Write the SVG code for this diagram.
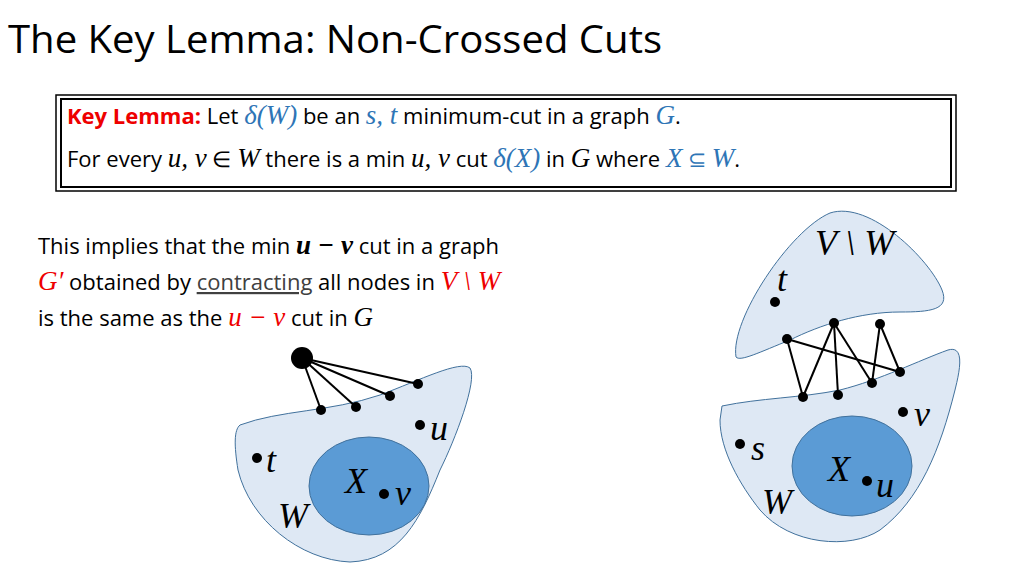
<svg xmlns="http://www.w3.org/2000/svg" width="1024" height="576" viewBox="0 0 1024 576">
<style>
.t{font-family:"Open Sans","Liberation Sans",sans-serif;fill:#000}
.m{font-family:"Liberation Serif","DejaVu Serif",serif;font-style:italic;font-size:27px}
.b{fill:#dee8f4;stroke:#41719c;stroke-width:1}
.x{fill:#5b9bd5;stroke:#41719c;stroke-width:1}
.e line{stroke:#000;stroke-width:2}
</style>
<rect width="1024" height="576" fill="#fff"/>
<text class="t" x="8" y="53" font-size="38" fill="#404040" textLength="654" lengthAdjust="spacingAndGlyphs">The Key Lemma: Non-Crossed Cuts</text>
<rect x="56" y="95" width="900" height="96" fill="none" stroke="#000" stroke-width="1.5"/>
<rect x="61" y="99" width="890" height="88" fill="none" stroke="#000" stroke-width="2"/>
<text class="t" x="67" y="124" font-size="22"><tspan fill="#e00" font-weight="bold">Key Lemma:</tspan> Let <tspan class="m" fill="#2e75b6">δ(W)</tspan> be an <tspan class="m" fill="#2e75b6">s, t</tspan> minimum-cut in a graph <tspan class="m" fill="#2e75b6">G</tspan>.</text>
<text class="t" x="67" y="167" font-size="22">For every <tspan class="m">u, v</tspan> ∈ <tspan class="m">W</tspan>  there is a min <tspan class="m">u, v</tspan> cut <tspan class="m" fill="#2e75b6">δ(X)</tspan> in <tspan class="m">G</tspan> where <tspan class="m" fill="#2e75b6">X</tspan><tspan fill="#2e75b6"> ⊆ </tspan><tspan class="m" fill="#2e75b6">W</tspan>.</text>
<text class="t" x="38" y="254" font-size="22">This implies that the min <tspan class="m" font-weight="bold">u − v</tspan> cut in a graph</text>
<text class="t" x="38" y="290" font-size="22"><tspan class="m" fill="#e00">G′</tspan> obtained by <tspan text-decoration="underline" fill="#404040">contracting</tspan> all nodes in <tspan class="m" fill="#e00">V \ W</tspan></text>
<text class="t" x="38" y="326" font-size="22">is the same as the <tspan class="m" fill="#e00">u − v</tspan> cut in <tspan class="m">G</tspan></text>
<g id="left-W"><path class="b" d="M240,425 C280,410 330,412 380,395 C420,380 460,360 470,368 C478,380 455,440 440,470 C420,520 400,560 350,562 C300,560 250,520 238,470 C234,445 234,430 240,425 Z"/>
<ellipse class="x" cx="369" cy="486" rx="60" ry="49"/></g>
<g id="right-top"><path class="b" d="M736,357 C730,320 790,230 830,213 C870,200 930,260 942,290 C950,310 930,312 900,312 C860,312 820,325 790,340 C760,352 740,362 736,357 Z"/></g>
<g id="right-W"><path class="b" d="M722,406 C760,398 800,398 840,390 C880,380 920,360 948,350 C965,345 960,370 955,390 C940,450 920,500 880,530 C850,550 790,545 760,510 C740,485 720,450 720,420 Z"/>
<ellipse class="x" cx="852" cy="466" rx="60" ry="50"/></g>
<g id="edges" class="e">
<line x1="302" y1="358" x2="321" y2="410"/><line x1="302" y1="358" x2="356" y2="407"/><line x1="302" y1="358" x2="390" y2="396"/><line x1="302" y1="358" x2="418" y2="384"/>
<line x1="787" y1="339" x2="803" y2="397"/><line x1="787" y1="339" x2="900" y2="372"/><line x1="834" y1="323" x2="803" y2="397"/><line x1="834" y1="323" x2="838" y2="395"/><line x1="834" y1="323" x2="872" y2="383"/><line x1="880" y1="324" x2="872" y2="383"/><line x1="880" y1="324" x2="900" y2="372"/>
</g>
<g id="nodes" fill="#000">
<circle cx="302" cy="358" r="11"/>
<circle cx="321" cy="410" r="5"/><circle cx="356" cy="407" r="5"/><circle cx="390" cy="396" r="5"/><circle cx="418" cy="384" r="5"/>
<circle cx="420" cy="425" r="5"/><circle cx="257" cy="458" r="5"/><circle cx="384" cy="494" r="5"/>
<circle cx="787" cy="339" r="5"/><circle cx="834" cy="323" r="5"/><circle cx="880" cy="324" r="5"/><circle cx="775" cy="302" r="5"/>
<circle cx="803" cy="397" r="5"/><circle cx="838" cy="395" r="5"/><circle cx="872" cy="383" r="5"/><circle cx="900" cy="372" r="5"/>
<circle cx="903" cy="412" r="5"/><circle cx="740" cy="444" r="5"/><circle cx="867" cy="481" r="5"/>
</g>
<g font-family="Liberation Serif, DejaVu Serif, serif" font-style="italic" font-size="36" fill="#000">
<text x="430" y="440">u</text><text x="266" y="472">t</text><text x="345" y="493">X</text><text x="395" y="505">v</text><text x="278" y="528">W</text>
<text x="815" y="255">V \ W</text><text x="777" y="291">t</text><text x="914" y="426">v</text><text x="751" y="460">s</text><text x="828" y="481">X</text><text x="876" y="497">u</text><text x="762" y="514">W</text>
</g>
</svg>
